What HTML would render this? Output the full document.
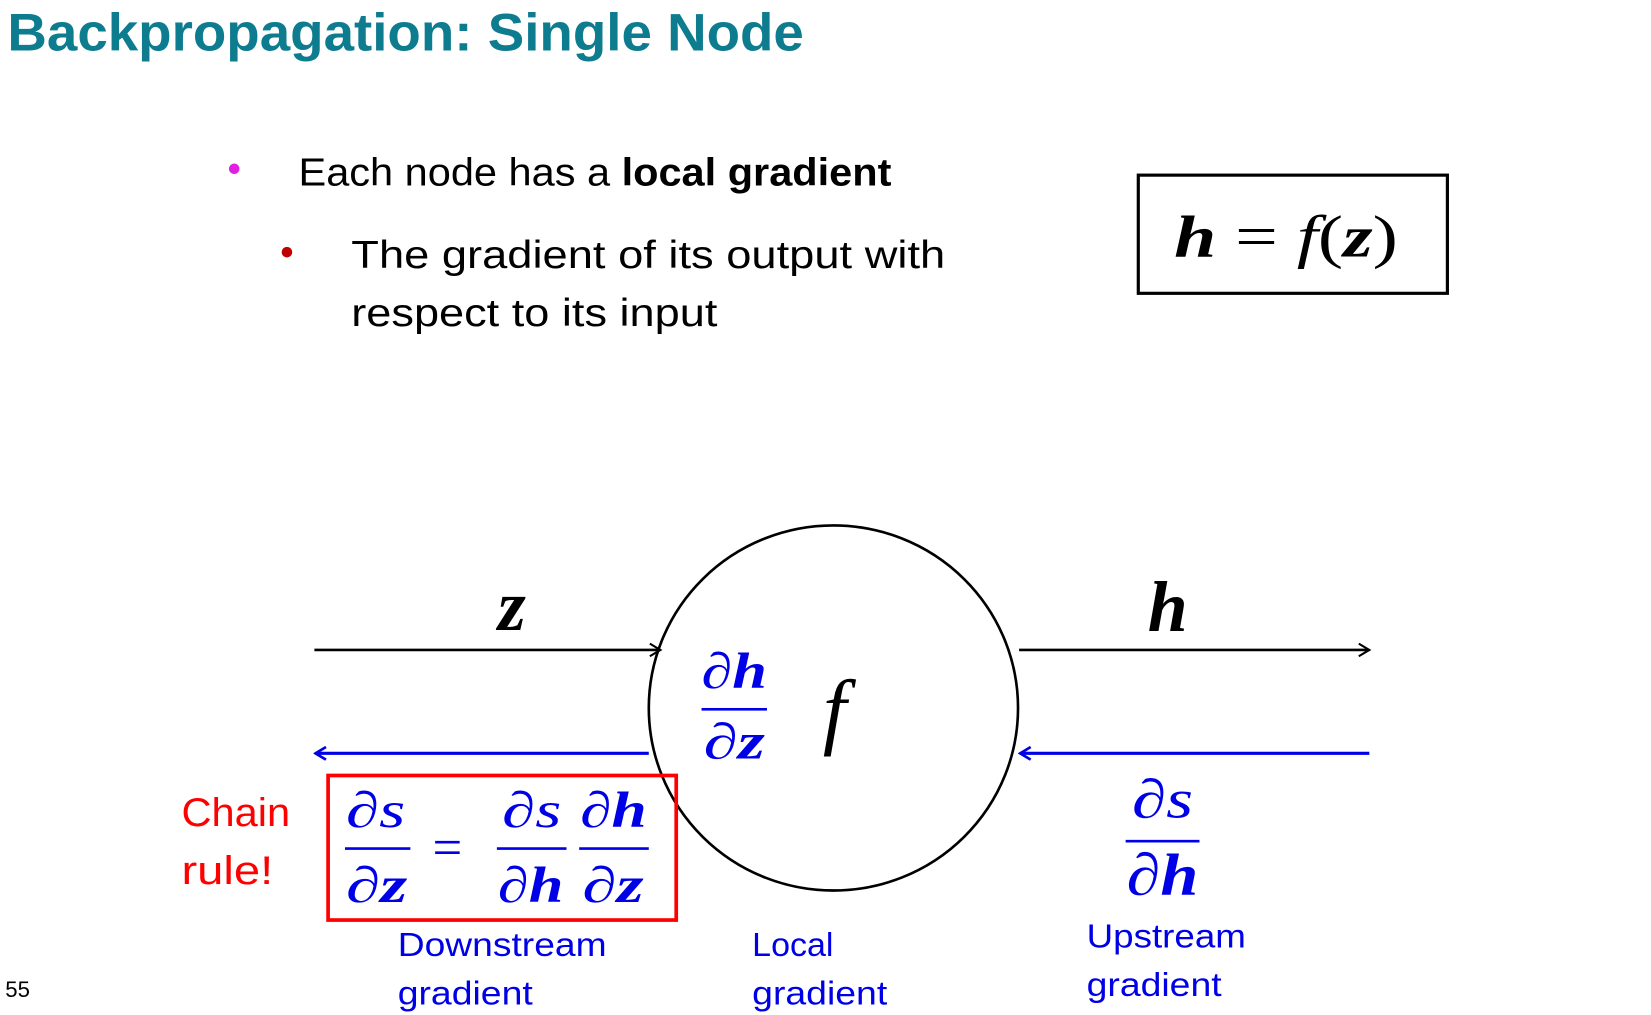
<!DOCTYPE html>
<html><head><meta charset="utf-8"><style>
html,body{margin:0;padding:0;background:#fff;width:1651px;height:1015px;overflow:hidden}
svg{display:block}
.s{font-family:"Liberation Sans",sans-serif}
.m{font-family:"Liberation Serif","DejaVu Serif",serif;font-style:italic}
</style></head><body>
<svg width="1651" height="1015" viewBox="0 0 1565 962" preserveAspectRatio="none" xmlns="http://www.w3.org/2000/svg">
<defs>
<marker id="ab" markerWidth="14" markerHeight="14" refX="12" refY="7" orient="auto" markerUnits="userSpaceOnUse"><path d="M2,1 L12,7 L2,13" fill="none" stroke="#000" stroke-width="2"/></marker>
<marker id="au" markerWidth="14" markerHeight="14" refX="12" refY="7" orient="auto" markerUnits="userSpaceOnUse"><path d="M2,1 L12,7 L2,13" fill="none" stroke="#0000e6" stroke-width="2.5"/></marker>
</defs>
<text class="s" x="7" y="48" font-size="50" font-weight="bold" fill="#0e7c8f" textLength="755" lengthAdjust="spacingAndGlyphs">Backpropagation: Single Node</text>
<circle cx="222" cy="160" r="5" fill="#e020e0"/>
<text class="s" x="283" y="176" font-size="37" fill="#000" textLength="562" lengthAdjust="spacingAndGlyphs">Each node has a <tspan font-weight="bold">local gradient</tspan></text>
<circle cx="272" cy="239" r="5" fill="#c00000"/>
<text class="s" x="333" y="254" font-size="37" textLength="563" lengthAdjust="spacingAndGlyphs">The gradient of its output with</text>
<text class="s" x="333" y="309" font-size="37" textLength="347" lengthAdjust="spacingAndGlyphs">respect to its input</text>
<rect x="1079" y="166" width="293" height="112" fill="none" stroke="#000" stroke-width="3"/>
<text class="m" x="1113" y="243" font-size="56" textLength="212" lengthAdjust="spacingAndGlyphs"><tspan font-weight="bold">h</tspan><tspan font-style="normal"> = </tspan>f<tspan font-style="normal">(</tspan><tspan font-weight="bold">z</tspan><tspan font-style="normal">)</tspan></text>
<ellipse cx="790" cy="671" rx="175" ry="173" fill="none" stroke="#000" stroke-width="2.5"/>
<line x1="298" y1="616" x2="626" y2="616" stroke="#000" stroke-width="2.5" marker-end="url(#ab)"/>
<line x1="966" y1="616" x2="1298" y2="616" stroke="#000" stroke-width="2.5" marker-end="url(#ab)"/>
<line x1="615" y1="714" x2="299" y2="714" stroke="#0000e6" stroke-width="3" marker-end="url(#au)"/>
<line x1="1298" y1="714" x2="967" y2="714" stroke="#0000e6" stroke-width="3" marker-end="url(#au)"/>
<text class="m" x="472" y="597" font-size="68" font-weight="bold">z</text>
<text class="m" x="1088" y="598" font-size="68" font-weight="bold">h</text>
<g fill="#0000e6" class="m" font-size="48">
<text x="665" y="652" textLength="62" lengthAdjust="spacingAndGlyphs">∂<tspan font-weight="bold">h</tspan></text>
<rect x="665" y="671" width="62" height="2.5"/>
<text x="667" y="719" textLength="58" lengthAdjust="spacingAndGlyphs">∂<tspan font-weight="bold">z</tspan></text>
</g>
<text class="m" x="780" y="700" font-size="80">f</text>
<rect x="311" y="735" width="330" height="137" fill="none" stroke="#ff0000" stroke-width="3.5"/>
<text class="s" x="172" y="783" font-size="38" fill="#ff0000" textLength="103" lengthAdjust="spacingAndGlyphs">Chain</text>
<text class="s" x="172" y="838" font-size="38" fill="#ff0000" textLength="87" lengthAdjust="spacingAndGlyphs">rule!</text>
<g fill="#0000e6" class="m" font-size="48">
<text x="328" y="784" textLength="56" lengthAdjust="spacingAndGlyphs">∂s</text>
<rect x="327" y="803" width="62" height="2.5"/>
<text x="328" y="855" textLength="58" lengthAdjust="spacingAndGlyphs">∂<tspan font-weight="bold">z</tspan></text>
<text x="410" y="820" font-style="normal" font-size="50">=</text>
<text x="476" y="784" textLength="56" lengthAdjust="spacingAndGlyphs">∂s</text>
<rect x="471" y="803" width="66" height="2.5"/>
<text x="472" y="855" textLength="62" lengthAdjust="spacingAndGlyphs">∂<tspan font-weight="bold">h</tspan></text>
<text x="550" y="784" textLength="63" lengthAdjust="spacingAndGlyphs">∂<tspan font-weight="bold">h</tspan></text>
<rect x="549" y="803" width="66" height="2.5"/>
<text x="552" y="855" textLength="58" lengthAdjust="spacingAndGlyphs">∂<tspan font-weight="bold">z</tspan></text>
<text x="1073" y="775" font-size="52" textLength="58" lengthAdjust="spacingAndGlyphs">∂s</text>
<rect x="1067" y="796" width="70" height="2.5"/>
<text x="1068" y="848" font-size="56" textLength="68" lengthAdjust="spacingAndGlyphs">∂<tspan font-weight="bold">h</tspan></text>
</g>
<g fill="#0000e6" class="s" font-size="32">
<text x="377" y="906" textLength="198" lengthAdjust="spacingAndGlyphs">Downstream</text>
<text x="377" y="952" textLength="128" lengthAdjust="spacingAndGlyphs">gradient</text>
<text x="713" y="906" textLength="77" lengthAdjust="spacingAndGlyphs">Local</text>
<text x="713" y="952" textLength="128" lengthAdjust="spacingAndGlyphs">gradient</text>
<text x="1030" y="898" textLength="151" lengthAdjust="spacingAndGlyphs">Upstream</text>
<text x="1030" y="944" textLength="128" lengthAdjust="spacingAndGlyphs">gradient</text>
</g>
<text class="s" x="5" y="945" font-size="21">55</text>
</svg>
</body></html>
